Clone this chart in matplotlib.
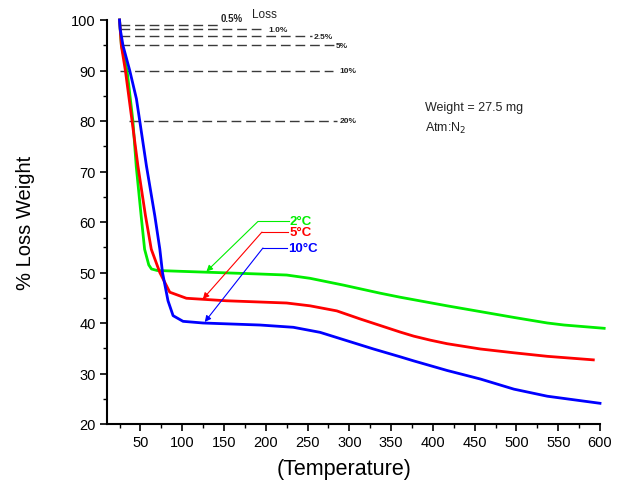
import matplotlib
matplotlib.use("Agg")
import matplotlib.pyplot as plt

plt.rcParams['font.family'] = ['Liberation Sans', 'DejaVu Sans']

# ---- data ----
temp_2c = [25, 27.2, 34, 41, 45, 51, 55, 60, 63.2, 70, 97, 193, 225, 253, 293, 337, 361, 417, 497, 537, 557, 605]
wt_2c   = [100, 95.0, 90.0, 80.0, 71.0, 61.0, 54.6, 51.5, 50.7, 50.4, 50.24, 49.7, 49.5, 48.85, 47.5, 45.9, 45.1, 43.4, 41.1, 40.0, 39.6, 38.95]

temp_5c = [25, 27.2, 32, 40, 47, 56, 63, 73.2, 85.1, 105, 153, 225, 253, 285, 313, 337, 361, 377, 397, 417, 457, 497, 537, 592]
wt_5c   = [100, 94.9, 90.0, 80.0, 71.1, 61.3, 54.6, 50.0, 46.1, 44.9, 44.4, 43.96, 43.4, 42.4, 40.8, 39.5, 38.2, 37.4, 36.6, 35.9, 34.85, 34.1, 33.4, 32.7]

temp_10c = [25, 25.8, 29.2, 37.2, 45.2, 49.2, 57.2, 67.2, 73.2, 76.4, 83, 89.1, 101, 125, 193, 233, 265, 297, 329, 361, 377, 417, 457, 497, 537, 600]
wt_10c   = [100, 98.2, 94.9, 90.0, 84.4, 80.0, 71.1, 61.25, 54.65, 50.0, 44.4, 41.45, 40.33, 40.0, 39.6, 39.15, 38.15, 36.5, 34.85, 33.3, 32.5, 30.6, 28.9, 26.9, 25.5, 24.1]

# loss reference lines
loss_levels = [99.1, 98.2, 96.8, 95.0, 90.0, 80.0]
loss_starts = [25, 25, 25, 25, 25, 36]
loss_ends   = [143, 197, 255, 283, 280, 285]
loss_labels = ['0.5%', '1.0%', '2.5%', '5%', '10%', '20%']
loss_label_x = [146, 203, 257, 284, 288, 288]
loss_label_y = [100.4, 98.2, 96.8, 95.0, 90.0, 80.0]
loss_label_size = [7, 6, 6, 6, 6, 6]

# annotations: label, color, text pos, elbow pos, arrow tip
ann_labels = ['2°C', '5°C', '10°C']
ann_colors = ['#00ee00', '#ff0000', '#0000ff']
ann_text = [(229, 60.1), (228, 58.0), (227, 54.85)]
ann_elbow = [(190.6, 60.1), (195.4, 58.0), (196.6, 54.85)]
ann_tip = [(129, 50.2), (124.7, 44.75), (127, 40.2)]

x_ticks = [50, 100, 150, 200, 250, 300, 350, 400, 450, 500, 550, 600]
y_ticks = [20, 30, 40, 50, 60, 70, 80, 90, 100]

fig = plt.figure(figsize=(6.28, 4.81), dpi=100)
ax = fig.add_axes([107/628, 1-425/481, (600-107)/628, (425-21)/481])

# dashed loss lines
for lvl, s, e, lab, lx, ly, fs in zip(loss_levels, loss_starts, loss_ends, loss_labels,
                                       loss_label_x, loss_label_y, loss_label_size):
    ax.plot([s, e], [lvl, lvl], color='#3a3a3a', lw=1.0, dashes=(7, 3.5), zorder=1)
    ax.text(lx, ly, lab, fontsize=fs, fontweight='bold', color='#222222',
            ha='left', va='center', clip_on=False)
ax.text(184, 101.2, 'Loss', fontsize=8.5, color='#222222', ha='left', va='center', clip_on=False)

ax.plot(temp_2c, wt_2c, color='#00ee00', lw=2, zorder=3, clip_on=False)
ax.plot(temp_5c, wt_5c, color='#ff0000', lw=2, zorder=3, clip_on=False)
ax.plot(temp_10c, wt_10c, color='#0000ff', lw=2, zorder=3, clip_on=False)

for lab, c, tp, el, tip in zip(ann_labels, ann_colors, ann_text, ann_elbow, ann_tip):
    ax.plot([el[0], tp[0] - 1], [el[1], el[1]], color=c, lw=0.8, zorder=4)
    ax.annotate('', xy=tip, xytext=el,
                arrowprops=dict(arrowstyle='-|>', color=c, lw=0.8,
                                mutation_scale=9, shrinkA=0, shrinkB=0), zorder=4)
    ax.text(tp[0], tp[1], lab, color=c, fontsize=9.5, fontweight='bold', ha='left', va='center')

ax.text(390, 82.8, 'Weight = 27.5 mg', fontsize=9, color='#222222', ha='left', va='center')
ax.text(390, 78.8, 'Atm:N$_2$', fontsize=9, color='#222222', ha='left', va='center')

ax.set_xlim(10, 600)
ax.set_ylim(20, 100)
ax.set_xticks(x_ticks)
ax.set_yticks(y_ticks)
ax.set_xticks([25 + 50 * i for i in range(12)], minor=True)
ax.set_yticks([25 + 10 * i for i in range(8)], minor=True)
ax.tick_params(which='major', direction='out', length=5, width=1.2, labelsize=10.5, pad=3)
ax.tick_params(which='minor', direction='out', length=3, width=1.0)
for side in ['top', 'right']:
    ax.spines[side].set_visible(False)
for side in ['left', 'bottom']:
    ax.spines[side].set_linewidth(1.5)

ax.set_xlabel('(Temperature)', fontsize=15.5, labelpad=8)
ax.xaxis.set_label_coords(0.48, -0.085)
ax.set_ylabel('% Loss Weight', fontsize=14.5, labelpad=26)

fig.savefig('out.png', dpi=100)
